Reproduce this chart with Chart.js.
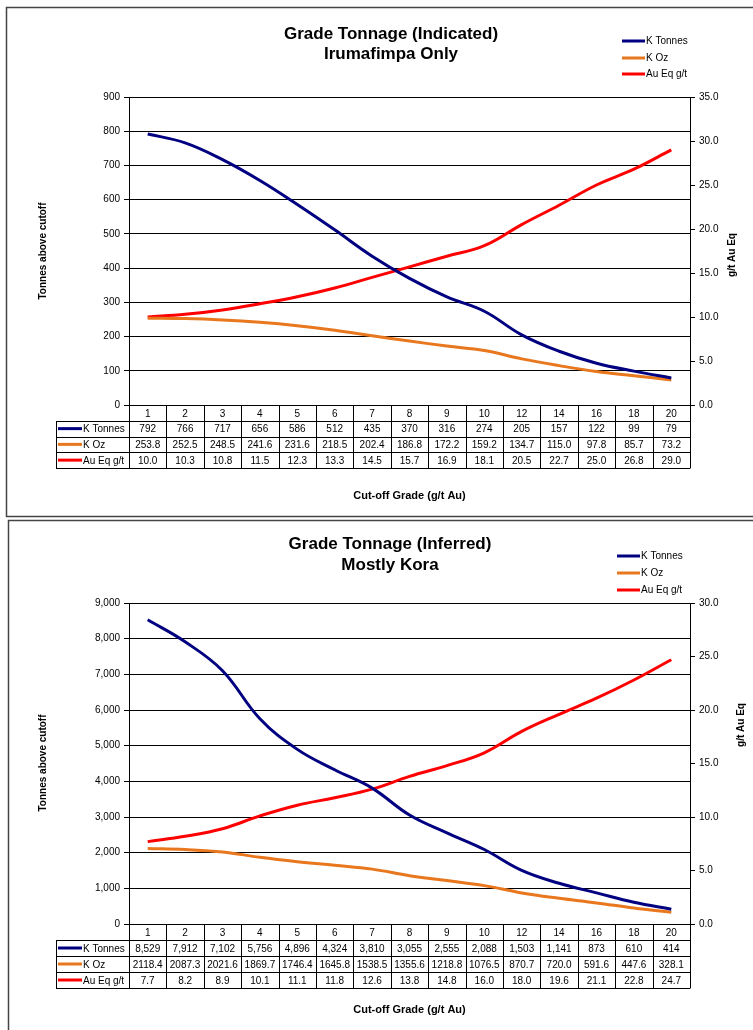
<!DOCTYPE html>
<html>
<head>
<meta charset="utf-8">
<script src="https://cdn.jsdelivr.net/npm/chart.js@4/dist/chart.umd.min.js"></script>
<style>
  body { margin: 0; background: #fff; width: 753px; height: 1030px; overflow: hidden; position: relative; }
  canvas { position: absolute; left: 0; }
  #c1 { top: 0; }
  #c2 { top: 518px; }
</style>
</head>
<body>
<canvas id="c1" width="753" height="518"></canvas>
<canvas id="c2" width="753" height="512"></canvas>
<script>
// cut-off grades (g/t Au)
const grades = ['1', '2', '3', '4', '5', '6', '7', '8', '9', '10', '12', '14', '16', '18', '20'];

// Indicated - Irumafimpa only
const indTonnes = [792, 766, 717, 656, 586, 512, 435, 370, 316, 274, 205, 157, 122, 99, 79];
const indOz = [253.8, 252.5, 248.5, 241.6, 231.6, 218.5, 202.4, 186.8, 172.2, 159.2, 134.7, 115.0, 97.8, 85.7, 73.2];
const indAueq = [10.0, 10.3, 10.8, 11.5, 12.3, 13.3, 14.5, 15.7, 16.9, 18.1, 20.5, 22.7, 25.0, 26.8, 29.0];

// Inferred - mostly Kora
const infTonnes = [8529, 7912, 7102, 5756, 4896, 4324, 3810, 3055, 2555, 2088, 1503, 1141, 873, 610, 414];
const infOz = [2118.4, 2087.3, 2021.6, 1869.7, 1746.4, 1645.8, 1538.5, 1355.6, 1218.8, 1076.5, 870.7, 720.0, 591.6, 447.6, 328.1];
const infAueq = [7.7, 8.2, 8.9, 10.1, 11.1, 11.8, 12.6, 13.8, 14.8, 16.0, 18.0, 19.6, 21.1, 22.8, 24.7];

const seriesNames = ['K Tonnes', 'K Oz', 'Au Eq g/t'];
const seriesColors = ['#000080', '#E8771E', '#FF0000'];

const FONT = '"Liberation Sans", Arial, sans-serif';

// titles, legend, data table, frame
const decor = {
  id: 'decor',
  afterDraw(chart, args, o) {
    const ctx = chart.ctx;
    const xs = chart.scales.x;
    const area = chart.chartArea;
    ctx.save();

    // frame
    ctx.strokeStyle = '#444';
    ctx.lineWidth = 1.5;
    ctx.strokeRect(o.frame[0], o.frame[1], o.frame[2], o.frame[3]);

    // title
    ctx.fillStyle = '#000';
    ctx.textAlign = 'center';
    ctx.textBaseline = 'middle';
    ctx.font = 'bold 17px ' + FONT;
    o.title.forEach((t, i) => ctx.fillText(t, o.titleX, o.titleY[i]));

    // legend
    ctx.font = '10px ' + FONT;
    ctx.textAlign = 'left';
    chart.data.datasets.forEach((ds, i) => {
      const y = o.legendY[i];
      ctx.strokeStyle = ds.borderColor;
      ctx.lineWidth = 3;
      ctx.beginPath();
      ctx.moveTo(o.legendX, y);
      ctx.lineTo(o.legendX + 23, y);
      ctx.stroke();
      ctx.fillText(ds.label, o.legendX + 24, y + 0.5);
    });

    // axis titles
    ctx.font = 'bold 10px ' + FONT;
    ctx.textAlign = 'center';
    ctx.save();
    ctx.translate(o.yTitle[0], o.yTitle[1]);
    ctx.rotate(-Math.PI / 2);
    ctx.fillText('Tonnes above cutoff', 0, 0);
    ctx.restore();
    ctx.save();
    ctx.translate(o.y1Title[0], o.y1Title[1]);
    ctx.rotate(-Math.PI / 2);
    ctx.fillText('g/t Au Eq', 0, 0);
    ctx.restore();
    ctx.font = 'bold 11px ' + FONT;
    ctx.fillText('Cut-off Grade (g/t Au)', (area.left + area.right) / 2, o.xTitleY);

    // data table
    const n = chart.data.labels.length;
    const colW = (area.right - area.left) / n;
    const top = area.bottom;
    const rh = o.rowH;
    const tl = o.tableLeft;
    ctx.strokeStyle = '#000';
    ctx.lineWidth = 1;
    ctx.beginPath();
    for (let r = 1; r <= 4; r++) {
      const y = Math.round(top + r * rh) + 0.5;
      ctx.moveTo(tl, y);
      ctx.lineTo(area.right, y);
    }
    for (let k = 0; k <= n; k++) {
      const x = Math.round(area.left + k * colW) + 0.5;
      ctx.moveTo(x, top);
      ctx.lineTo(x, Math.round(top + 4 * rh) + 0.5);
    }
    ctx.moveTo(tl + 0.5, Math.round(top + rh) + 0.5);
    ctx.lineTo(tl + 0.5, Math.round(top + 4 * rh) + 0.5);
    ctx.stroke();

    ctx.font = '10px ' + FONT;
    ctx.textAlign = 'center';
    chart.data.labels.forEach((lab, k) => {
      ctx.fillText(lab, xs.getPixelForValue(k), top + rh / 2 + 1);
    });
    chart.data.datasets.forEach((ds, i) => {
      const yc = top + (i + 1.5) * rh + 1;
      ds.data.forEach((v, k) => {
        ctx.fillText(o.fmt[i](v), xs.getPixelForValue(k), yc);
      });
      ctx.strokeStyle = ds.borderColor;
      ctx.lineWidth = 3;
      ctx.beginPath();
      ctx.moveTo(tl + 2, yc - 1);
      ctx.lineTo(tl + 26, yc - 1);
      ctx.stroke();
      ctx.textAlign = 'left';
      ctx.fillText(ds.label, tl + 27, yc);
      ctx.textAlign = 'center';
    });

    ctx.restore();
  }
};

function makeChart(id, tonnes, oz, aueq, opt) {
  const values = [tonnes, oz, aueq];
  const axes = ['y', 'y', 'y1'];
  const datasets = values.map((d, i) => ({
    label: seriesNames[i],
    data: d,
    yAxisID: axes[i],
    borderColor: seriesColors[i],
    backgroundColor: seriesColors[i],
    borderWidth: 3,
    pointRadius: 0,
    tension: 0.4,
    fill: false
  }));
  return new Chart(document.getElementById(id), {
    type: 'line',
    data: { labels: grades, datasets: datasets },
    options: {
      responsive: false,
      animation: false,
      devicePixelRatio: 1,
      layout: { padding: { top: opt.top, left: 0, right: 0, bottom: 0 } },
      plugins: {
        legend: { display: false },
        tooltip: { enabled: false },
        decor: opt.decor
      },
      scales: {
        x: {
          type: 'category',
          offset: true,
          grid: { display: false },
          border: { display: false },
          ticks: { display: false },
          afterFit: s => { s.height = opt.bottom; }
        },
        y: {
          position: 'left',
          min: 0,
          max: opt.yMax,
          grid: { color: '#000', lineWidth: 1, tickLength: 5, tickColor: '#000' },
          border: { color: '#000', width: 1 },
          ticks: {
            stepSize: opt.yStep,
            padding: 4,
            color: '#000',
            font: { family: FONT, size: 10 },
            callback: v => v.toLocaleString('en-US')
          },
          afterFit: s => { s.width = 129; }
        },
        y1: {
          position: 'right',
          min: 0,
          max: opt.y1Max,
          grid: { drawOnChartArea: false, tickLength: 5, tickColor: '#000', color: '#000' },
          border: { color: '#000', width: 1 },
          ticks: {
            stepSize: 5,
            padding: 4,
            color: '#000',
            font: { family: FONT, size: 10 },
            callback: v => v.toFixed(1)
          },
          afterFit: s => { s.width = 63; }
        }
      }
    },
    plugins: [decor]
  });
}

const fmt0 = v => String(v);
const fmtK = v => v.toLocaleString('en-US');
const fmt1 = v => v.toFixed(1);

makeChart('c1', indTonnes, indOz, indAueq, {
  top: 97, bottom: 113, yMax: 900, yStep: 100, y1Max: 35,
  decor: {
    frame: [6.5, 7.5, 760, 509],
    title: ['Grade Tonnage (Indicated)', 'Irumafimpa Only'],
    titleX: 391, titleY: [34, 54],
    legendX: 622, legendY: [41, 58, 74],
    yTitle: [43, 251], y1Title: [732, 255], xTitleY: 496,
    rowH: 15.75, tableLeft: 56,
    fmt: [fmt0, fmt1, fmt1]
  }
});

makeChart('c2', infTonnes, infOz, infAueq, {
  top: 85, bottom: 106, yMax: 9000, yStep: 1000, y1Max: 30,
  decor: {
    frame: [8.5, 2.5, 760, 520],
    title: ['Grade Tonnage (Inferred)', 'Mostly Kora'],
    titleX: 390, titleY: [26, 47],
    legendX: 617, legendY: [38, 55, 72],
    yTitle: [43, 245], y1Title: [741, 207], xTitleY: 492,
    rowH: 16, tableLeft: 56,
    fmt: [fmtK, fmt1, fmt1]
  }
});
</script>
</body>
</html>
